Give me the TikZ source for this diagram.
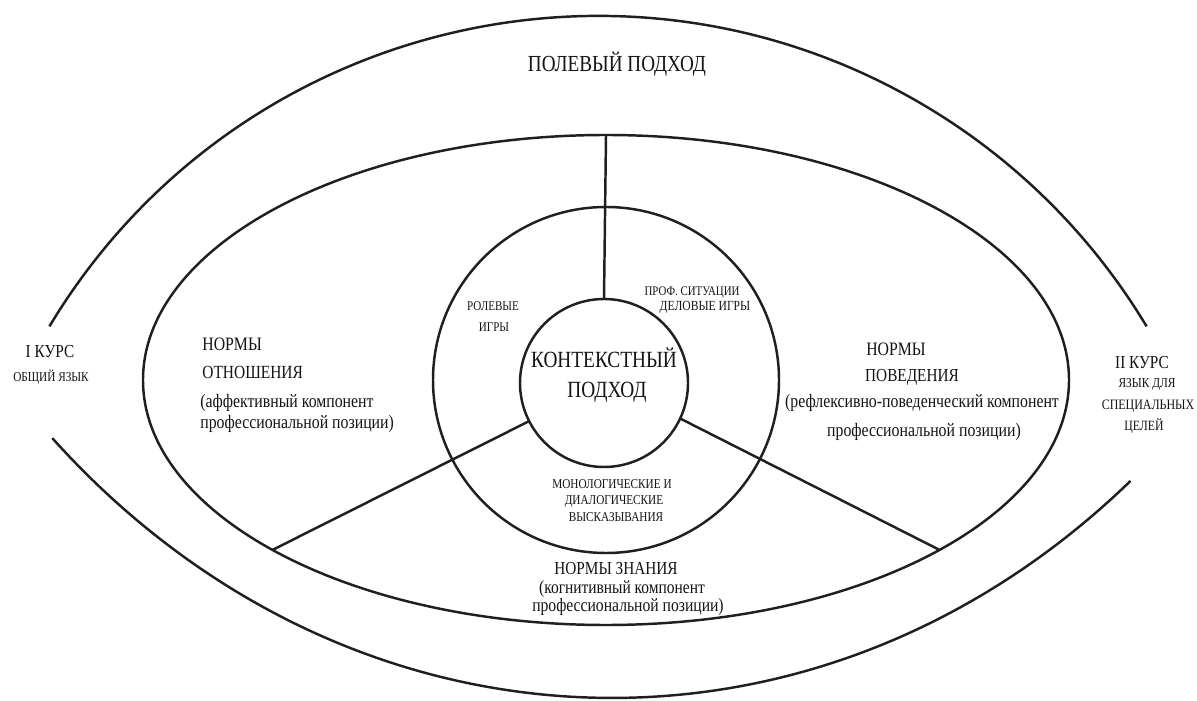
\documentclass[tikz,border=0pt]{standalone}
\usepackage{fontspec}
\setmainfont{Liberation Serif}
\usepackage{graphicx}
\usetikzlibrary{shapes.geometric,calc}
% one drawing unit = one pixel of the 1197 x 700 canvas
\newcommand{\pxl}{0.02cm}
% slightly taller letter shapes
\newcommand{\vstr}[1]{\scalebox{1}[1.2]{#1}}
\begin{document}
\begin{tikzpicture}[x=\pxl, y=\pxl,
  ln/.style={line width=1.4pt, draw=black!88},
  ring/.style={ln, inner sep=0pt, outer sep=0pt},
  lbl/.style={inner sep=0pt, text=black!92, font=\fontsize{#1}{#1}\selectfont},
]
\useasboundingbox[fill=white] (0,0) rectangle (1197,700);

% ---- outer "eye": upper and lower arcs
\coordinate (otc) at (598,44);
\coordinate (obc) at (612,912);
\coordinate (otl) at ($(otc)+(149:640)$);
\coordinate (obl) at ($(obc)+(225.6:800 and 910)$);
\draw[ln] (otl) arc[start angle=149, end angle=31, radius=640];
\draw[ln] (obl) arc[start angle=225.6, end angle=310.4, x radius=800, y radius=910];

% ---- norms ellipse, middle ring, central circle
\node[ring, ellipse, minimum width=926*\pxl, minimum height=490*\pxl] (norms) at (606,320) {};
\node[ring, circle, minimum size=346*\pxl] (mid) at (606,320) {};
\node[ring, circle, minimum size=168*\pxl] (ctx) at (604,317) {};

% ---- three radial dividers
\draw[ln] (ctx.90) -- (norms.90);
\draw[ln] (ctx.207) -- (norms.207);
\draw[ln] (ctx.335) -- (norms.333);

% ---- field approach
\node[lbl=10.9] (field) at (617,636) {\vstr{ПОЛЕВЫЙ ПОДХОД}};

% ---- first year
\node[lbl=8.7] (c1a) at (50,348) {\vstr{I КУРС}};
\node[lbl=6.4] (c1b) at (51,323) {\vstr{ОБЩИЙ ЯЗЫК}};

% ---- second year
\node[lbl=8.7] (c2a) at (1142,337) {\vstr{II КУРС}};
\node[lbl=6.5] (c2b) at (1147,316) {\vstr{ЯЗЫК ДЛЯ}};
\node[lbl=6.8] (c2c) at (1148,294) {\vstr{СПЕЦИАЛЬНЫХ}};
\node[lbl=6.7] (c2d) at (1144,274) {\vstr{ЦЕЛЕЙ}};

% ---- norms of attitude
\node[lbl=9, anchor=west] (na1) at (202,356) {\vstr{НОРМЫ}};
\node[lbl=8.8, anchor=west] (na2) at (202,328) {\vstr{ОТНОШЕНИЯ}};
\node[lbl=9, anchor=west] (na3) at (200,297) {\vstr{(аффективный компонент}};
\node[lbl=9, anchor=west] (na4) at (200,276) {\vstr{профессиональной позиции)}};

% ---- norms of behaviour
\node[lbl=9] (nb1) at (896,351) {\vstr{НОРМЫ}};
\node[lbl=8.7] (nb2) at (912,323) {\vstr{ПОВЕДЕНИЯ}};
\node[lbl=9] (nb3) at (922,297) {\vstr{(рефлексивно-поведенческий компонент}};
\node[lbl=9] (nb4) at (924,268) {\vstr{профессиональной позиции)}};

% ---- norms of knowledge
\node[lbl=8.7] (nk1) at (616,131) {\vstr{НОРМЫ ЗНАНИЯ}};
\node[lbl=8.8] (nk2) at (622,111) {\vstr{(когнитивный компонент}};
\node[lbl=8.9] (nk3) at (628,93) {\vstr{профессиональной позиции)}};

% ---- forms of work in the middle ring
\node[lbl=6.3] (rg1) at (493,394) {\vstr{РОЛЕВЫЕ}};
\node[lbl=6.3] (rg2) at (494,373) {\vstr{ИГРЫ}};
\node[lbl=6.2] (ps1) at (692,407) {\vstr{ПРОФ. СИТУАЦИИ}};
\node[lbl=6.6] (ps2) at (705,393) {\vstr{ДЕЛОВЫЕ ИГРЫ}};
\node[lbl=6.4] (md1) at (612,216) {\vstr{МОНОЛОГИЧЕСКИЕ И}};
\node[lbl=6.4] (md2) at (614,199) {\vstr{ДИАЛОГИЧЕСКИЕ}};
\node[lbl=6.4] (md3) at (616,183) {\vstr{ВЫСКАЗЫВАНИЯ}};

% ---- contextual approach
\node[lbl=11] (cx1) at (604,342) {\vstr{КОНТЕКСТНЫЙ}};
\node[lbl=11] (cx2) at (607,308) {\vstr{ПОДХОД}};
\end{tikzpicture}
\end{document}
